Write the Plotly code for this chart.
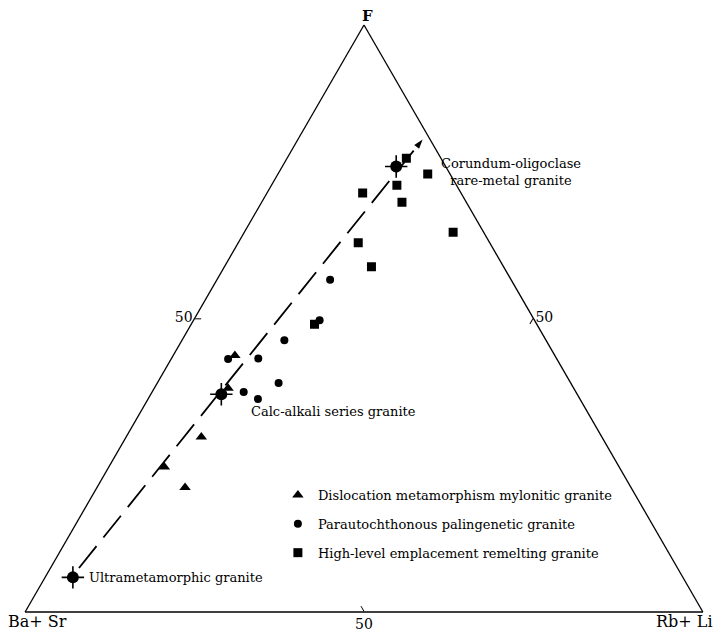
import plotly.graph_objects as go

tri_f = [43.7, 38.1, 29.8, 24.7, 21.2]
tri_ba = [47.2, 51.0, 59.1, 67.1, 65.8]
tri_rb = [9.1, 10.9, 11.1, 8.2, 13.0]

cir_f = [43.1, 43.2, 37.5, 36.3, 39.0, 46.3, 49.7, 56.6]
cir_ba = [48.5, 44.0, 49.0, 47.5, 43.1, 38.6, 31.7, 26.7]
cir_rb = [8.4, 12.8, 13.5, 16.2, 17.9, 15.1, 18.6, 16.7]

sq_f = [77.3, 74.6, 71.4, 72.7, 69.8, 64.7, 62.9, 58.8, 49.0]
sq_ba = [5.1, 3.3, 14.5, 8.8, 9.5, 4.5, 19.4, 19.5, 32.8]
sq_rb = [17.6, 22.1, 14.1, 18.5, 20.7, 30.8, 17.7, 21.7, 18.2]

# puntos tipo (ultrametamorfico, calco-alcalino, corindon)
tipo_f = [5.9, 37.1, 75.9]
tipo_ba = [90.0, 52.5, 7.3]
tipo_rb = [4.1, 10.4, 16.8]

# linea de tendencia
lin_f = [7.5, 80.5]
lin_ba = [88.3, 1.1]
lin_rb = [4.2, 18.4]

series = ["Dislocation metamorphism mylonitic granite",
          "Parautochthonous palingenetic granite",
          "High-level emplacement remelting granite"]

fuente = "DejaVu Serif"

fig = go.Figure()

#linea discontinua con flecha
fig.add_trace(go.Scatterternary(a=lin_f, b=lin_ba, c=lin_rb, mode="lines+markers",
                                line=dict(color="black", width=1.8, dash="28px,11px"),
                                marker=dict(symbol=["circle", "arrow"], size=[0, 10], color="black",
                                            opacity=1, angleref="previous",
                                            line=dict(color="black", width=0)),
                                showlegend=False, hoverinfo="skip"))

#grupos
fig.add_trace(go.Scatterternary(a=tri_f, b=tri_ba, c=tri_rb, mode="markers", name=series[0],
                                legendgroup="g1",
                                marker=dict(symbol="triangle-up", size=10, color="black")))
fig.add_trace(go.Scatterternary(a=cir_f, b=cir_ba, c=cir_rb, mode="markers", name=series[1],
                                legendgroup="g2",
                                marker=dict(symbol="circle", size=8, color="black")))
fig.add_trace(go.Scatterternary(a=sq_f, b=sq_ba, c=sq_rb, mode="markers", name=series[2],
                                legendgroup="g3",
                                marker=dict(symbol="square", size=9, color="black")))

#puntos tipo
fig.add_trace(go.Scatterternary(a=tipo_f, b=tipo_ba, c=tipo_rb, mode="markers",
                                marker=dict(symbol="cross-thin-open", size=16, color="black",
                                            line=dict(color="black", width=1.6)),
                                showlegend=False))
fig.add_trace(go.Scatterternary(a=tipo_f, b=tipo_ba, c=tipo_rb, mode="markers",
                                marker=dict(symbol="circle", size=12, color="black"),
                                showlegend=False))

#etiquetas
etiquetas = [("Ultrametamorphic granite", 0.092, 0.059, "left", 13),
             ("Calc-alkali series granite", 0.331, 0.342, "left", 13),
             ("Corundum-oligoclase<br>rare-metal granite", 0.717, 0.749, "center", 13),
             ("<b>F</b>", 0.505, 1.016, "center", 15),
             ("Ba+ Sr", -0.028, -0.017, "left", 16),
             ("Rb+ Li", 1.018, -0.017, "right", 16)]
for txt, x, y, anc, tam in etiquetas:
    fig.add_annotation(text=txt, x=x, y=y, xref="paper", yref="paper", xanchor=anc,
                       yanchor="middle", showarrow=False, align="center",
                       font=dict(family=fuente, size=tam, color="black"))

#ejes
eje = dict(showgrid=False, linecolor="black", linewidth=1.3, ticks="inside", ticklen=6,
           tickcolor="black", tickmode="array", tickvals=[50], ticktext=["50"],
           tickfont=dict(family=fuente, size=14, color="black"), min=0, title=dict(text=""))

fig.update_layout(
    width=721, height=637,
    margin=dict(l=17, r=26, t=17, b=33),
    paper_bgcolor="white",
    font=dict(family=fuente, color="black"),
    ternary=dict(sum=100, bgcolor="white", aaxis=eje, baxis=eje, caxis=eje),
    legend=dict(x=0.373, y=0.225, xanchor="left", yanchor="top", bgcolor="rgba(0,0,0,0)",
                traceorder="grouped", tracegroupgap=9, itemwidth=30,
                font=dict(family=fuente, size=13, color="black")),
)

fig.write_html("out.html")
